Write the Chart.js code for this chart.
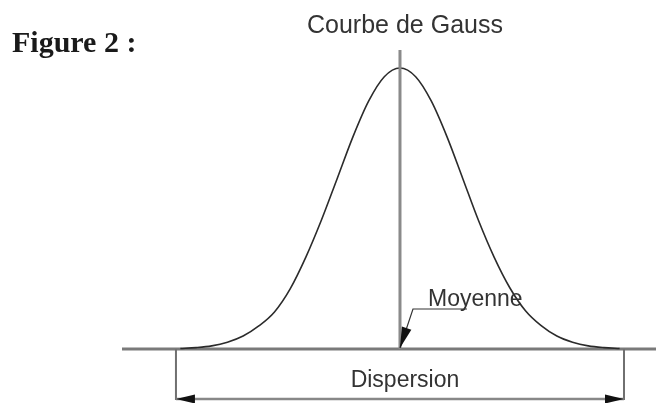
<!DOCTYPE html>
<html>
<head>
<meta charset="utf-8">
<script src="https://cdn.jsdelivr.net/npm/chart.js@4.4.1/dist/chart.umd.min.js"></script>
<style>
	html, body { margin: 0; padding: 0; background: #fff; }
	#wrap { position: relative; width: 656px; height: 403px; }
</style>
</head>
<body>
<div id="wrap"><canvas id="gauss" width="656" height="403"></canvas></div>
<script>
// x in units of sigma around the mean, y as fraction of the peak height
const curveX = [-3.5, -3.25, -3, -2.75, -2.5, -2.25, -2, -1.75, -1.5, -1.25, -1, -0.75, -0.5, -0.25, 0,
	0.25, 0.5, 0.75, 1, 1.25, 1.5, 1.75, 2, 2.25, 2.5, 2.75, 3, 3.25, 3.5];
const curveY = [0.002, 0.005, 0.011, 0.024, 0.046, 0.082, 0.132, 0.214, 0.327, 0.46, 0.607, 0.755, 0.882, 0.969, 1,
	0.969, 0.882, 0.755, 0.607, 0.458, 0.327, 0.218, 0.136, 0.083, 0.046, 0.024, 0.011, 0.005, 0.002];
const xRange = [-4.43, 4.08];
const yRange = [0, 1.064];
const mean = 0;
const dispersion = [-3.57, 3.57];

const titleText = 'Courbe de Gauss';
const figureText = 'Figure 2 :';
const meanText = 'Moyenne';
const dispersionText = 'Dispersion';

function toPoints(xs, ys) {
	return xs.map((x, i) => ({ x: x, y: ys[i] }));
}

function arrowHead(ctx, tipX, tipY, fromX, fromY, len, half) {
	var dx = tipX - fromX, dy = tipY - fromY;
	var d = Math.sqrt(dx * dx + dy * dy);
	var ux = dx / d, uy = dy / d;
	var bx = tipX - ux * len, by = tipY - uy * len;
	ctx.beginPath();
	ctx.moveTo(tipX, tipY);
	ctx.lineTo(bx - uy * half, by + ux * half);
	ctx.lineTo(bx + uy * half, by - ux * half);
	ctx.closePath();
	ctx.fill();
}

// labels, the dispersion bracket and the mean pointer
const annotations = {
	id: 'annotations',
	afterDatasetsDraw(chart) {
		const ctx = chart.ctx;
		const xs = chart.scales.x, ys = chart.scales.y;
		const y0 = ys.getPixelForValue(0);
		const left = xs.getPixelForValue(dispersion[0]);
		const right = xs.getPixelForValue(dispersion[1]);
		const mx = xs.getPixelForValue(mean);
		const bottom = y0 + 50;

		ctx.save();

		// dispersion bracket
		ctx.strokeStyle = '#707070';
		ctx.lineWidth = 2;
		ctx.beginPath();
		ctx.moveTo(left, y0);
		ctx.lineTo(left, bottom + 1);
		ctx.moveTo(right, y0);
		ctx.lineTo(right, bottom + 1);
		ctx.stroke();

		ctx.strokeStyle = '#888';
		ctx.lineWidth = 2.5;
		ctx.beginPath();
		ctx.moveTo(left, bottom);
		ctx.lineTo(right, bottom);
		ctx.stroke();

		ctx.fillStyle = '#111';
		arrowHead(ctx, left, bottom, left + 10, bottom, 19, 4.5);
		arrowHead(ctx, right, bottom, right - 10, bottom, 19, 4.5);

		// mean pointer
		ctx.strokeStyle = '#333';
		ctx.lineWidth = 1.2;
		ctx.beginPath();
		ctx.moveTo(mx + 67, y0 - 40);
		ctx.lineTo(mx + 13, y0 - 40);
		ctx.lineTo(mx, y0 - 1);
		ctx.stroke();
		ctx.fillStyle = '#111';
		arrowHead(ctx, mx, y0 - 1, mx + 13, y0 - 40, 21, 5);

		// texts
		ctx.fillStyle = '#333';
		ctx.textBaseline = 'alphabetic';
		ctx.font = '23px "Liberation Sans", Arial, sans-serif';
		ctx.textAlign = 'left';
		ctx.fillText(meanText, mx + 28, y0 - 43);

		ctx.textAlign = 'center';
		ctx.fillText(dispersionText, (left + right) / 2 + 5, y0 + 38);

		ctx.font = '25px "Liberation Sans", Arial, sans-serif';
		ctx.fillText(titleText, mx + 5, 33);

		ctx.fillStyle = '#1a1a1a';
		ctx.textAlign = 'left';
		ctx.font = 'bold 30px "Liberation Serif", "Times New Roman", serif';
		ctx.fillText(figureText, 12, 52);

		ctx.restore();
	}
};

new Chart(document.getElementById('gauss'), {
	type: 'line',
	data: {
		datasets: [{
			data: toPoints([mean, mean], yRange),
			borderColor: '#8a8a8a',
			borderWidth: 3,
			pointRadius: 0,
			order: 0,
			clip: false
		}, {
			data: toPoints(curveX, curveY),
			borderColor: '#2b2b2b',
			borderWidth: 1.6,
			pointRadius: 0,
			cubicInterpolationMode: 'monotone',
			order: 1,
			clip: false
		}, {
			data: toPoints(xRange, [0, 0]),
			borderColor: '#7a7a7a',
			borderWidth: 3,
			pointRadius: 0,
			order: 2,
			clip: false
		}]
	},
	options: {
		responsive: false,
		animation: false,
		layout: {
			padding: { left: 122, right: 0, top: 50, bottom: 54 }
		},
		scales: {
			x: { type: 'linear', display: false, min: xRange[0], max: xRange[1] },
			y: { type: 'linear', display: false, min: yRange[0], max: yRange[1] }
		},
		plugins: {
			legend: { display: false },
			tooltip: { enabled: false }
		}
	},
	plugins: [annotations]
});
</script>
</body>
</html>
